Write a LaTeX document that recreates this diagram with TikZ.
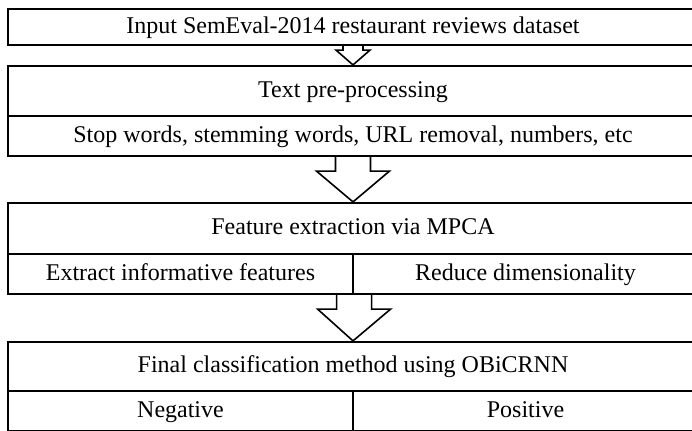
\documentclass[tikz,border=0pt]{standalone}
\usepackage{fontspec}
\setmainfont{Liberation Serif}
\usetikzlibrary{calc}

\begin{document}
\begin{tikzpicture}[x=0.5pt,y=-0.5pt,
  box/.style={draw,line width=1.1pt,inner sep=0pt,minimum width=345pt,
    text height=8.5pt,text depth=2.5pt,font=\fontsize{12}{14}\selectfont},
  half/.style={box,minimum width=172.5pt},
  blk/.style={draw,line width=0.8pt,line join=miter}]
\useasboundingbox (0,0) rectangle (692,430);
\clip (0,0) rectangle (692,430);
% stage 1
\node[box,minimum height=18pt] (input) at (353,27) {Input SemEval-2014 restaurant reviews dataset};
% stage 2
\node[box,minimum height=25pt] (pre) at (353,91) {Text pre-processing};
\node[box,minimum height=20pt] (stop) at (353,136) {Stop words, stemming words, URL removal, numbers, etc};
% stage 3
\node[box,minimum height=25.5pt] (feat) at (353,228.5) {Feature extraction via MPCA};
\node[half,minimum height=20pt] (extr) at (180.5,274) {Extract informative features};
\node[half,minimum height=20pt] (redu) at (525.5,274) {Reduce dimensionality};
% stage 4
\node[box,minimum height=24.5pt] (cls) at (353,366.5) {Final classification method using OBiCRNN};
\node[half,minimum height=20pt] (neg) at (180.5,411) {Negative};
\node[half,minimum height=20pt] (pos) at (525.5,411) {Positive};
% block arrows
\draw[blk] ($(input.south)+(-10,0)$) -- ++(0,4) -- ++(-7,0) -- (pre.north)
  -- ($(input.south)+(17,4)$) -- ++(-7,0) -- ++(0,-4);
\draw[blk] ($(stop.south)+(-17.5,0)$) -- ++(0,14) -- ++(-19,0) -- (feat.north)
  -- ($(stop.south)+(36.5,14)$) -- ++(-19,0) -- ++(0,-14);
\draw[blk] ($(extr.south east)+(-17.5,0)$) -- ++(0,14) -- ++(-19,0) -- (cls.north)
  -- ($(extr.south east)+(36.5,14)$) -- ++(-19,0) -- ++(0,-14);
\end{tikzpicture}
\end{document}
